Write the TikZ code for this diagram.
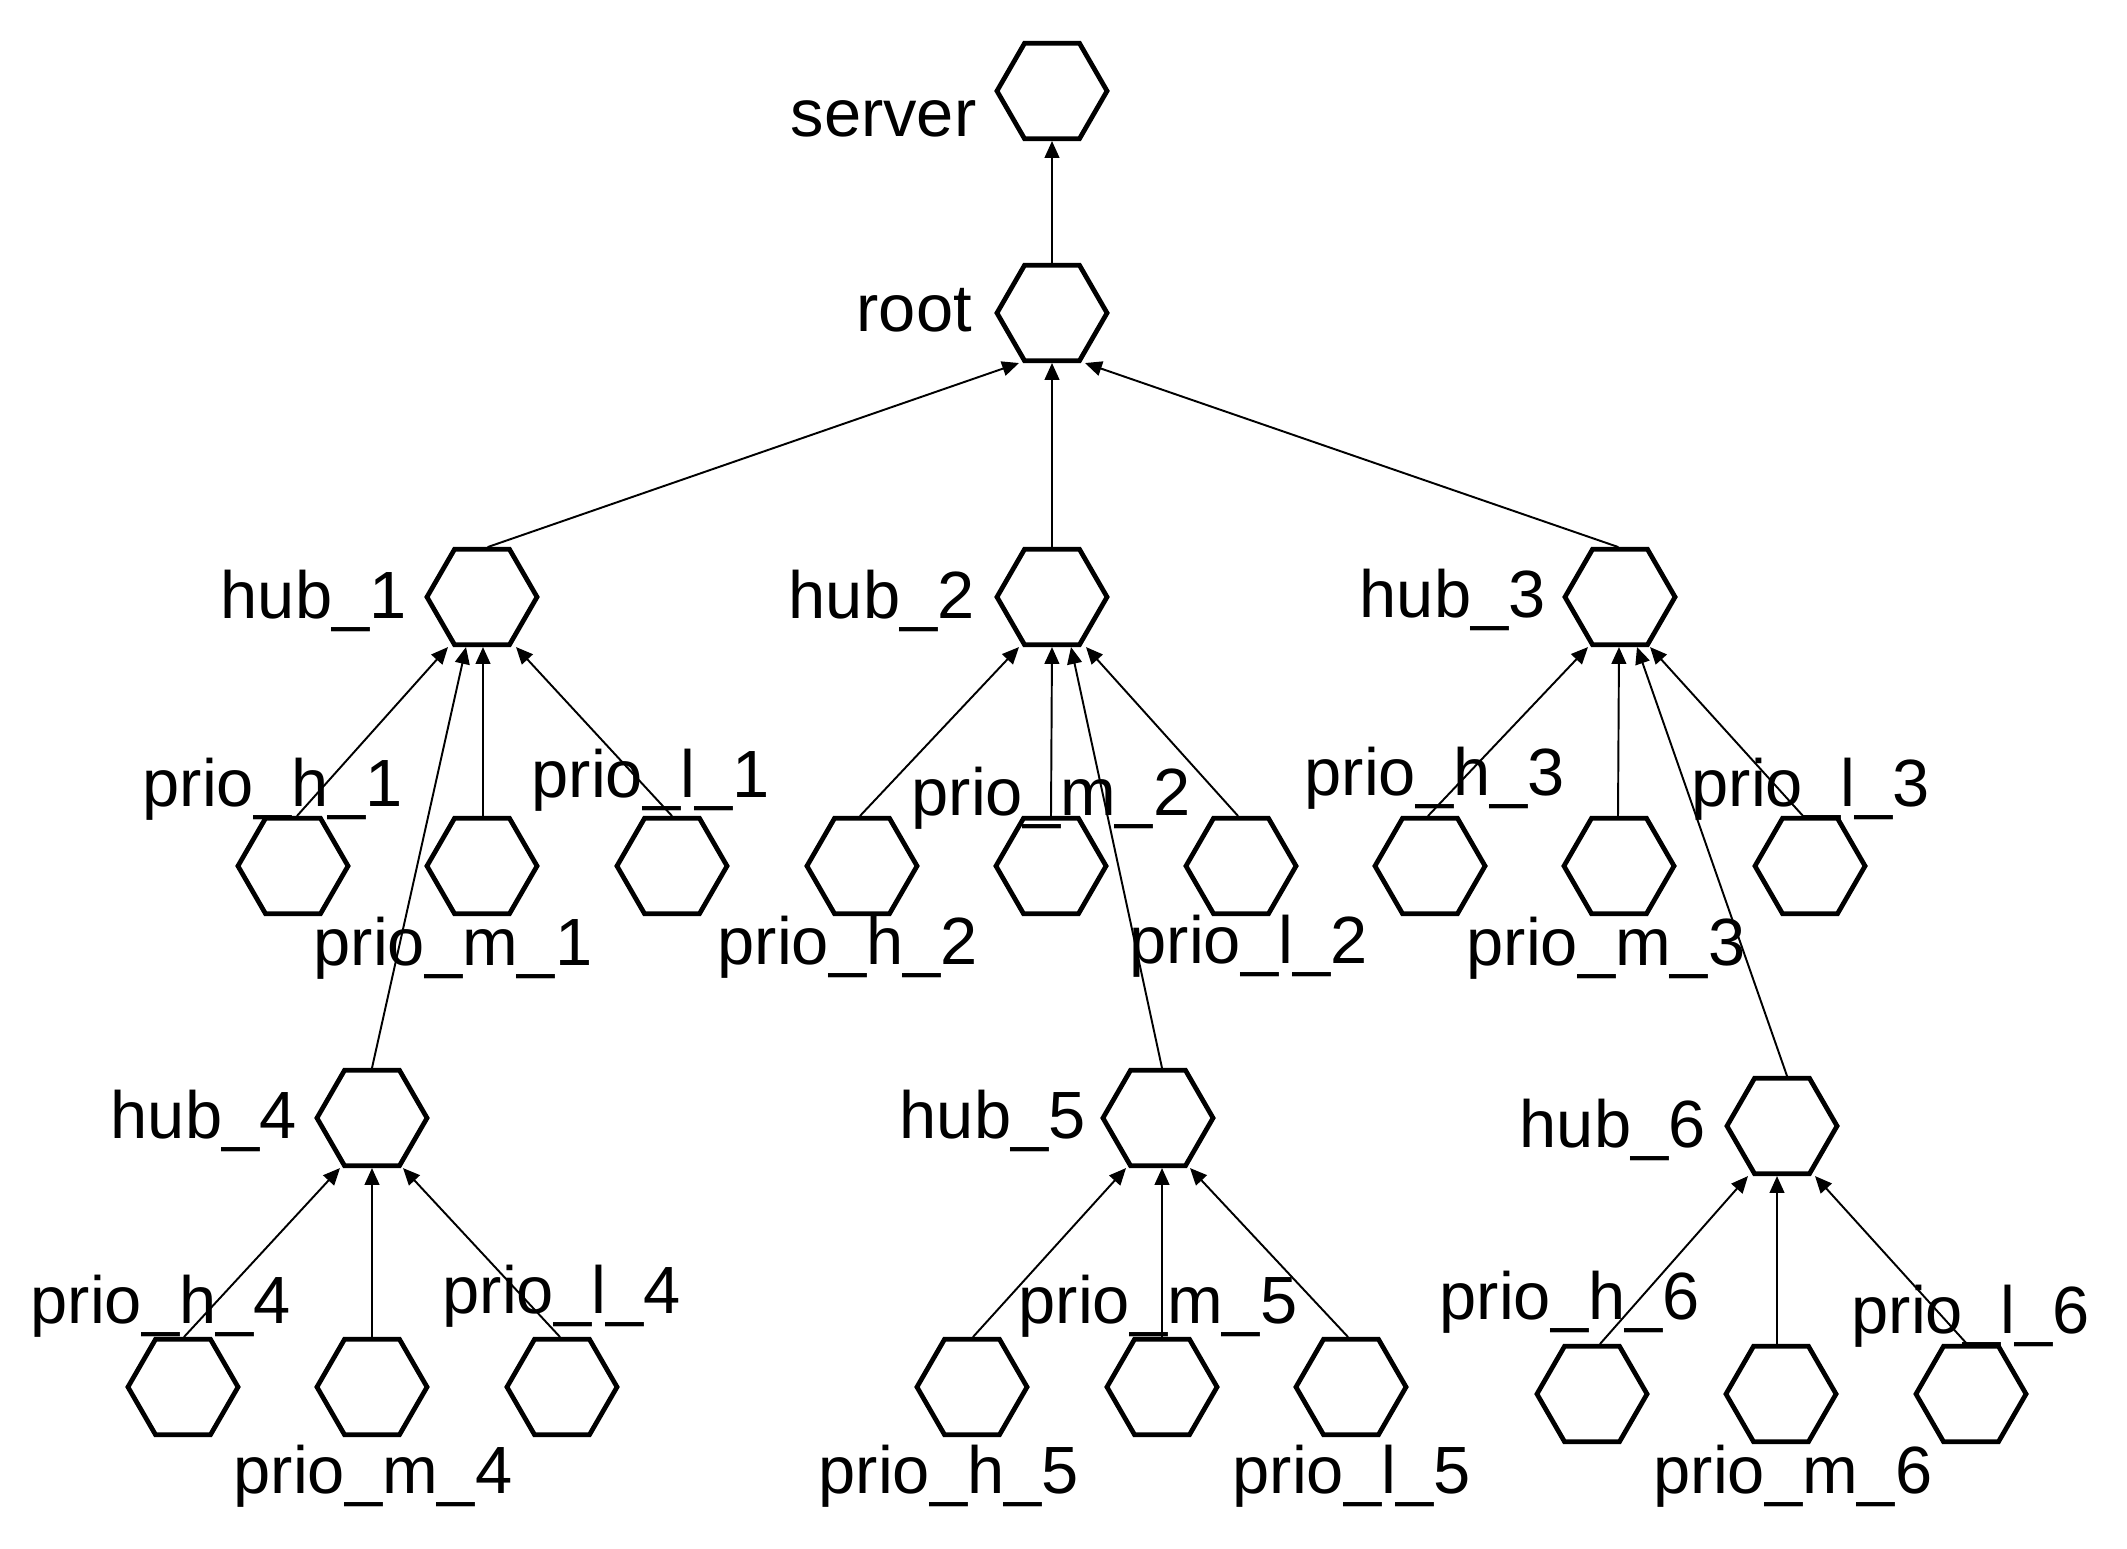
\documentclass[tikz,border=0pt]{standalone}
\usepackage{fontspec}
\setmainfont{Liberation Sans}
\usetikzlibrary{arrows.meta,calc,shapes.geometric}

\begin{document}
\begin{tikzpicture}[x=0.01cm, y=-0.01cm,
  hexa/.style={draw, line width=1.35pt, regular polygon, regular polygon sides=6,
               minimum size=1.1cm, inner sep=0pt},
  lab/.style={anchor=base west, inner sep=0pt, font=\fontsize{19}{22}\selectfont},
  edge/.style={-{Triangle[length=4.8pt,width=4.2pt]}, line width=0.55pt, line cap=round}]

% ----------------------------
% CANVAS
% ----------------------------
\useasboundingbox (0,0) rectangle (2127,1549);

% ----------------------------
% HEXAGON NODES
% ----------------------------
\foreach \n/\x/\y in {server/1052/91, root/1052/313,
    hub1/482/597, hub2/1052/597, hub3/1620/597,
    ph1/293/866, pm1/482/866, pl1/672/866,
    ph2/862/866, pm2/1051/866, pl2/1241/866,
    ph3/1430/866, pm3/1619/866, pl3/1810/866,
    hub4/372/1118, hub5/1158/1118, hub6/1782/1126,
    ph4/183/1387, pm4/372/1387, pl4/562/1387,
    ph5/972/1387, pm5/1162/1387, pl5/1351/1387,
    ph6/1592/1394, pm6/1781/1394, pl6/1971/1394} {
  \node[hexa] (\n) at (\x,\y) {};
}

% ----------------------------
% LABELS
% ----------------------------
\node[lab] (lserver) at (790,137) {server};
\node[lab] (lroot) at (856,332) {root};

\node[lab] (lhub1) at (220,618) {hub\_1};
\node[lab] (lhub2) at (788,618) {hub\_2};
\node[lab] (lhub3) at (1359,617) {hub\_3};

\node[lab] (lph1) at (142,806) {prio\_h\_1};
\node[lab] (lpm1) at (313,965) {prio\_m\_1};
\node[lab] (lpl1) at (531,797) {prio\_l\_1};
\node[lab] (lph2) at (717,964) {prio\_h\_2};
\node[lab] (lpm2) at (911,815) {prio\_m\_2};
\node[lab] (lpl2) at (1129,963) {prio\_l\_2};
\node[lab] (lph3) at (1304,795) {prio\_h\_3};
\node[lab] (lpm3) at (1466,965) {prio\_m\_3};
\node[lab] (lpl3) at (1691,806) {prio\_l\_3};

\node[lab] (lhub4) at (110,1138) {hub\_4};
\node[lab] (lhub5) at (899,1138) {hub\_5};
\node[lab] (lhub6) at (1519,1147) {hub\_6};

\node[lab] (lph4) at (30,1323) {prio\_h\_4};
\node[lab] (lpm4) at (233,1493) {prio\_m\_4};
\node[lab] (lpl4) at (442,1313) {prio\_l\_4};
\node[lab] (lph5) at (818,1493) {prio\_h\_5};
\node[lab] (lpm5) at (1018,1323) {prio\_m\_5};
\node[lab] (lpl5) at (1232,1493) {prio\_l\_5};
\node[lab] (lph6) at (1439,1319) {prio\_h\_6};
\node[lab] (lpm6) at (1653,1493) {prio\_m\_6};
\node[lab] (lpl6) at (1851,1333) {prio\_l\_6};

% ----------------------------
% EDGES: child top -> parent bottom (ports spread)
% ----------------------------
\foreach \p/\c/\s/\e in {server/root/0/0,
    root/hub1/6/-33, root/hub2/0/0, root/hub3/-2/33,
    hub1/ph1/4/-34, hub1/hub4/0/-16, hub1/pm1/1/1, hub1/pl1/0/34,
    hub2/ph2/-2/-33, hub2/pm2/0/0, hub2/hub5/4/19, hub2/pl2/-3/34,
    hub3/ph3/-2/-32, hub3/pm3/-1/-1, hub3/hub6/5/17, hub3/pl3/-7/30,
    hub4/ph4/1/-32, hub4/pm4/0/0, hub4/pl4/-2/31,
    hub5/ph5/1/-32, hub5/pm5/0/4, hub5/pl5/-3/32,
    hub6/ph6/8/-34, hub6/pm6/-4/-5, hub6/pl6/-4/33} {
  \draw[edge] ($(\c.north)+(\s,0)$) -- ($(\p.south)+(\e,0)$);
}

\end{tikzpicture}
\end{document}
